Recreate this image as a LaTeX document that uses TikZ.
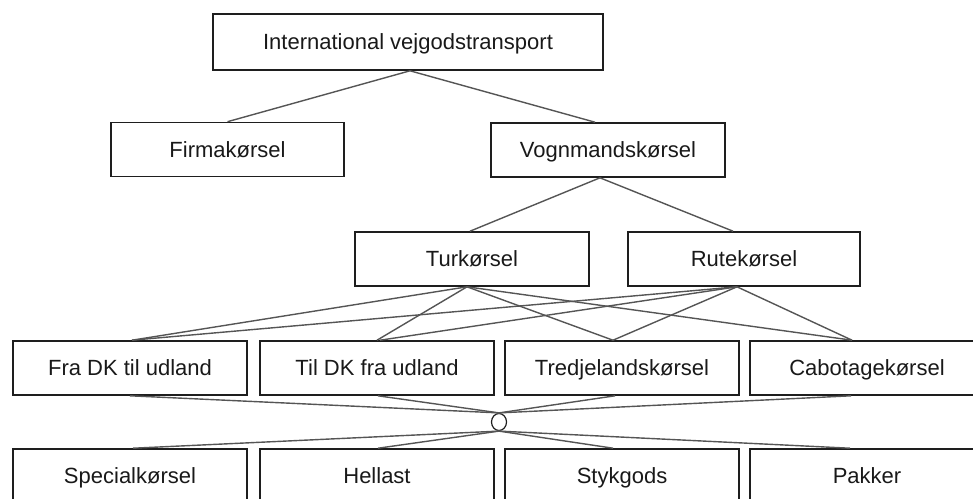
\documentclass[tikz,border=0pt]{standalone}
\usepackage{fontspec}
\setmainfont{Liberation Sans}
\usetikzlibrary{shapes.geometric}
\definecolor{linegray}{RGB}{85,85,85}
\definecolor{boxline}{RGB}{30,30,30}
\definecolor{txt}{RGB}{25,25,25}
\begin{document}
\begin{tikzpicture}[x=1pt,y=-1pt,
  box/.style={draw=boxline, line width=1.6pt, minimum width=234pt, minimum height=54pt,
    inner sep=0pt, text height=15.8pt, text depth=0pt, text=txt, font=\fontsize{22}{26}\selectfont},
  conn/.style={draw=linegray, line width=1.4pt},
  hub/.style={draw=boxline, line width=1.2pt, ellipse, minimum width=15pt, minimum height=17pt, inner sep=0pt}]
\useasboundingbox (0,0) rectangle (973,498);
\begin{scope}
\clip (0,0) rectangle (973,498);
\node[box, minimum width=390pt, minimum height=56pt] (top) at (408,42) {International vejgodstransport};
\node[box, minimum width=233pt] (firma) at (227.5,149.5) {Firmakørsel};
\node[box] (vogn) at (608,150) {Vognmandskørsel};
\node[box] (tur) at (472,259) {Turkørsel};
\node[box, minimum width=232pt] (rute) at (744,259) {Rutekørsel};
\node[box] (b1) at (130,368) {Fra DK til udland};
\node[box] (b2) at (377,368) {Til DK fra udland};
\node[box] (b3) at (622,368) {Tredjelandskørsel};
\node[box] (b4) at (867,368) {Cabotagekørsel};
\node[box] (c1) at (130,476) {Specialkørsel};
\node[box] (c2) at (377,476) {Hellast};
\node[box] (c3) at (622,476) {Stykgods};
\node[box] (c4) at (867,476) {Pakker};
\node[hub] (hub) at (499,422) {};

\draw[conn] ([xshift=2pt]top.south) -- (firma.north);
\draw[conn] ([xshift=2pt]top.south) -- ([xshift=-13pt]vogn.north);
\draw[conn] ([xshift=-8pt]vogn.south) -- ([xshift=-2pt]tur.north);
\draw[conn] ([xshift=-8pt]vogn.south) -- ([xshift=-11pt]rute.north);

\draw[conn] ([xshift=-5pt]tur.south) -- ([xshift=2pt]b1.north);
\draw[conn] ([xshift=-5pt]tur.south) -- (b2.north);
\draw[conn] ([xshift=-5pt]tur.south) -- ([xshift=-9pt]b3.north);
\draw[conn] ([xshift=-5pt]tur.south) -- ([xshift=-15pt]b4.north);
\draw[conn] ([xshift=-7pt]rute.south) -- ([xshift=2pt]b1.north);
\draw[conn] ([xshift=-7pt]rute.south) -- ([xshift=3pt]b2.north);
\draw[conn] ([xshift=-7pt]rute.south) -- ([xshift=-9pt]b3.north);
\draw[conn] ([xshift=-7pt]rute.south) -- ([xshift=-15pt]b4.north);

\draw[conn] (b1.south) -- (hub.north);
\draw[conn] ([xshift=1pt]b2.south) -- (hub.north);
\draw[conn] ([xshift=-7pt]b3.south) -- (hub.north);
\draw[conn] ([xshift=-16pt]b4.south) -- (hub.north);
\draw[conn] (hub.south) -- ([xshift=3pt]c1.north);
\draw[conn] (hub.south) -- ([xshift=1pt]c2.north);
\draw[conn] (hub.south) -- ([xshift=-9pt]c3.north);
\draw[conn] (hub.south) -- ([xshift=-17pt]c4.north);
\end{scope}
\end{tikzpicture}
\end{document}
